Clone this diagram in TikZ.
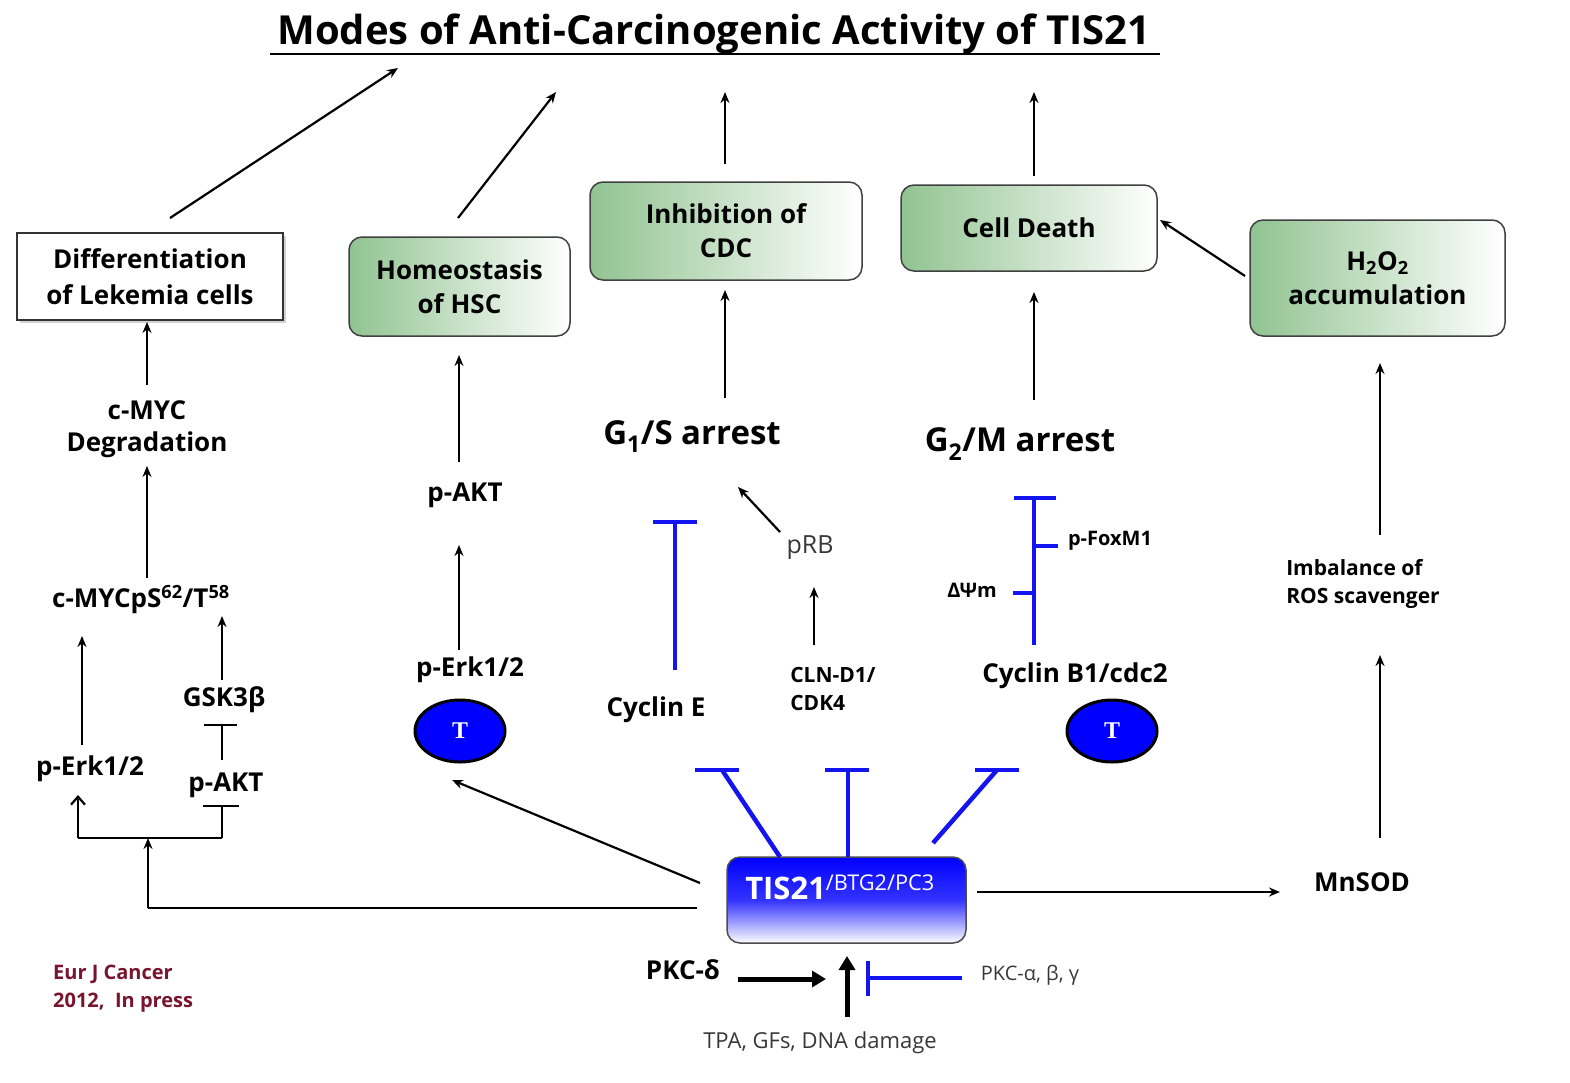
\documentclass[tikz,border=0pt]{standalone}
\usepackage{fontspec}
\setmainfont{Open Sans}
\newfontfamily\tfont{Liberation Serif}
\usetikzlibrary{arrows.meta,shadows,shapes.geometric}
\definecolor{tblue}{RGB}{20,20,240}
\definecolor{greenbox}{RGB}{145,195,145}
\definecolor{refred}{RGB}{120,20,45}
\definecolor{greytext}{RGB}{55,55,55}
\begin{document}
\begin{tikzpicture}[x=1pt,y=-1pt,
  lbl/.style={font=\fontsize{26}{32}\selectfont\bfseries, align=center, inner sep=0pt},
  slbl/.style={font=\fontsize{21}{28}\selectfont\bfseries, align=left, inner sep=0pt},
  thin lbl/.style={font=\fontsize{22}{28}\selectfont, text=greytext, inner sep=0pt},
  gbox/.style={draw=black!75, line width=1.5pt, rounded corners=13pt, left color=greenbox, right color=white,
     align=center, font=\fontsize{26}{34}\selectfont\bfseries, inner sep=0pt},
  arr/.style={line width=2.2pt, -{Stealth[length=11pt,width=9pt]}},
  plain/.style={line width=2.2pt},
  inh/.style={draw=tblue, line width=4.5pt},
  tnode/.style={ellipse, draw=black, line width=3pt, fill=blue, minimum width=90pt, minimum height=62pt,
     text=white, font=\tfont\fontsize{24}{24}\selectfont\bfseries, inner sep=0pt},
]
\useasboundingbox (0,0) rectangle (1570,1082);

% title
\node[font=\fontsize{40}{46}\selectfont\bfseries, inner sep=0pt] (title) at (714,34) {Modes of Anti-Carcinogenic Activity of TIS21};
\draw[line width=1.6pt] (270,54) -- (1160,54);

% top boxes
\node[draw=black!80, line width=2pt, fill=white, drop shadow={opacity=0.35, shadow xshift=3pt, shadow yshift=-3pt},
  minimum width=266pt, minimum height=87pt, align=center, font=\fontsize{26}{36}\selectfont\bfseries, inner sep=0pt]
  (diff) at (150,276.5) {Differentiation\\of Lekemia cells};
\node[gbox, minimum width=221pt, minimum height=99pt] (homeo) at (459.5,286.5) {Homeostasis\\of HSC};
\node[gbox, minimum width=272pt, minimum height=98pt] (inhib) at (726,231) {Inhibition of\\CDC};
\node[gbox, minimum width=256pt, minimum height=86pt] (death) at (1029,228) {Cell Death};
\node[gbox, minimum width=255pt, minimum height=116pt] (h2o2) at (1377.5,278) {H\textsubscript{2}O\textsubscript{2}\\accumulation};

% arrows to title
\coordinate (t1) at (398,68);
\coordinate (t2) at (556,92);
\coordinate (t3) at (725,92);
\coordinate (t4) at (1034,92);
\draw[arr] (170,218) -- (t1);
\draw[arr] (458,218) -- (t2);
\draw[arr] (inhib.north -| t3) ++(0,-17) -- (t3);
\draw[arr] (death.north -| t4) ++(0,-8) -- (t4);
\draw[arr] (1245,276) -- (1160,220);

% left column
\node[lbl] (cmyc) at (147,429) {c-MYC\\Degradation};
\node[lbl] (cmycp) at (141,600) {c-MYCpS\textsuperscript{62}/T\textsuperscript{58}};
\node[lbl] (gsk) at (224,700) {GSK3β};
\node[lbl] (pakt1) at (226,785) {p-AKT};
\node[lbl] (perk1) at (90,769) {p-Erk1/2};
\draw[arr] (147,385) -- (147,322);
\draw[arr] (147,578) -- (147,466);
\draw[arr] (82,745) -- (82,636);
\draw[arr] (222,680) -- (222,616);
\draw[plain] (222,760) -- (222,725);
\draw[plain] (204,725) -- (237,725);
\coordinate (brj) at (148,838);
\draw[plain] (78,838) -- (222,838);
\draw[line width=2.2pt, -{Straight Barb[length=8pt,width=14pt]}] (78,838) -- (78,795);
\draw[plain] (222,838) -- (222,806);
\draw[plain] (203,806) -- (239,806);

% middle-left column
\node[tnode] (T1) at (460,731) {T};
\node[lbl] (perk2) at (470,670) {p-Erk1/2};
\node[lbl] (pakt2) at (465,495) {p-AKT};
\draw[arr] (459,650) -- (459,545);
\draw[arr] (459,462) -- (459,355);

% G1/S
\node[font=\fontsize{33}{40}\selectfont\bfseries, inner sep=0pt] (g1s) at (692,437) {G\textsubscript{1}/S arrest};
\draw[arr] (725,398) -- (725,290);
\node[thin lbl, font=\fontsize{25}{30}\selectfont] (prb) at (810,548) {pRB};
\draw[arr] (780,532) -- (738,487);
\node[slbl] (cln) at (833,689) {CLN-D1/\\CDK4};
\draw[arr] (814,645) -- (814,587);
\node[lbl] (cyce) at (656,710) {Cyclin E};
\draw[inh] (675,670) -- (675,522);
\draw[inh] (653,522) -- (697,522);

% G2/M
\node[font=\fontsize{33}{40}\selectfont\bfseries, inner sep=0pt] (g2m) at (1020,444) {G\textsubscript{2}/M arrest};
\draw[arr] (1034,400) -- (1034,292);
\draw[inh] (1034,645) -- (1034,498);
\draw[inh] (1014,498) -- (1056,498);
\draw[inh] (1034,546) -- (1058,546);
\draw[inh] (1013,593) -- (1034,593);
\node[slbl, font=\fontsize{20}{26}\selectfont\bfseries] (fox) at (1110,541) {p-FoxM1};
\node[slbl, font=\fontsize{20}{26}\selectfont\bfseries] (dpsi) at (972,590) {ΔΨm};
\node[lbl] (cycb) at (1075,676) {Cyclin B1/cdc2};
\node[tnode] (T2) at (1112,731) {T};

% TIS21
\node[draw=black!70, line width=1.5pt, rounded corners=13pt, top color=blue, bottom color=white, middle color=blue!80!white,
  minimum width=239pt, minimum height=86pt, inner sep=0pt] (tis) at (846.5,900) {};
\node[text=white, font=\fontsize{31}{34}\selectfont\bfseries, inner sep=0pt] (tislbl) at (840,887)
  {TIS21\textsuperscript{\normalfont/BTG2/PC3}};

% blue inhibitions from TIS21
\coordinate (b1) at (722,770);
\coordinate (b2) at (848,770);
\coordinate (b3) at (997,770);
\draw[inh] (780,857) -- (b1);
\draw[inh] (695,770) -- (739,770);
\draw[inh] (848,857) -- (b2);
\draw[inh] (825,770) -- (869,770);
\draw[inh] (933,843) -- (b3);
\draw[inh] (975,770) -- (1019,770);

% TIS21 outputs
\coordinate (tl) at (697,908);
\draw[line width=2.2pt] (tl) -- (148,908);
\draw[arr] (148,908) -- (brj);
\draw[arr] (700,883) -- (452,780);
\node[lbl, font=\fontsize{26}{31}\selectfont\bfseries] (mnsod) at (1362,882) {MnSOD};
\draw[arr] (977,892) -- (1280,892);
\draw[arr] (1380,838) -- (1380,655);
\node[slbl] (imb) at (1363,584) {Imbalance of\\ROS scavenger};
\draw[arr] (1380,535) -- (1380,363);

% inputs
\node[lbl] (pkcd) at (683,970) {PKC-δ};
\draw[line width=5pt, -{Triangle[length=14pt,width=16pt]}] (738,979) -- (826,979);
\draw[line width=5pt, -{Triangle[length=14pt,width=16pt]}] (847,1017) -- (847,956);
\draw[inh] (962,978) -- (868,978);
\draw[inh] (868,961) -- (868,996);
\node[thin lbl, font=\fontsize{20}{26}\selectfont] (pkca) at (1030,975) {PKC-α, β, γ};
\node[thin lbl, font=\fontsize{22}{28}\selectfont] (tpa) at (820,1043) {TPA, GFs, DNA damage};

\node[font=\fontsize{20}{28}\selectfont\bfseries, text=refred, align=left, anchor=west, inner sep=0pt] (ref) at (53,989)
  {Eur J Cancer\\2012,\ \ In press};
\end{tikzpicture}
\end{document}
